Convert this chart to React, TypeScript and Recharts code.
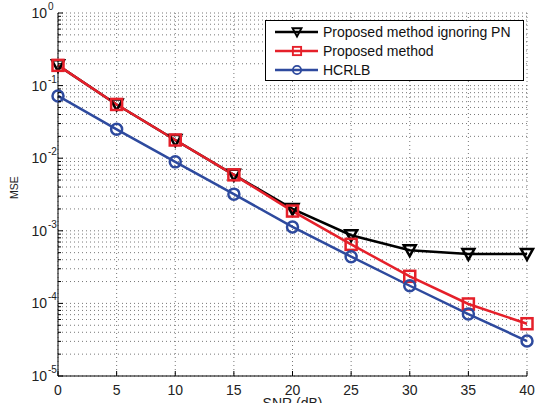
import React from 'react';
import { LineChart, Line, XAxis, YAxis, CartesianGrid, Legend } from 'recharts';

const snr = [0, 5, 10, 15, 20, 25, 30, 35, 40];
const ignoringPN = [0.19, 0.055, 0.0178, 0.0059, 0.002, 0.00087, 0.00054, 0.00048, 0.00048];
const proposed = [0.19, 0.055, 0.0178, 0.0059, 0.00187, 0.00065, 0.000236, 0.0000982, 0.0000525];
const hcrlb = [0.072, 0.025, 0.0089, 0.0032, 0.00113, 0.00044, 0.000175, 0.0000714, 0.0000303];

const xTicks = [0, 5, 10, 15, 20, 25, 30, 35, 40];
const decades = [1e-5, 1e-4, 1e-3, 1e-2, 1e-1, 1];
const mantissas = [1, 2, 3, 4, 5, 6, 7, 8, 9];
const yTicks = decades.flatMap((d) => (d === 1 ? [1] : mantissas.map((m) => m * d)));
const legendOrder = ['ignoring', 'proposed', 'hcrlb'];

const data = snr.map((s, i) => ({
  snr: s,
  ignoring: ignoringPN[i],
  proposed: proposed[i],
  hcrlb: hcrlb[i],
}));

const FONT = '"Liberation Sans", Arial, Helvetica, sans-serif';
const BLACK = '#000000';
const RED = '#e5202a';
const BLUE = '#2e4a9e';

const isDecade = (v: number) => Math.abs(Math.log10(v) - Math.round(Math.log10(v))) < 1e-6;

const Triangle = ({ cx, cy, color }: any) => (
  <polygon
    points={`${cx - 6},${cy - 5} ${cx + 6},${cy - 5} ${cx},${cy + 6}`}
    fill="none"
    stroke={color}
    strokeWidth={2.5}
    strokeLinejoin="miter"
  />
);
const Square = ({ cx, cy, color }: any) => (
  <rect x={cx - 5.5} y={cy - 5.5} width={11} height={11} fill="none" stroke={color} strokeWidth={2.5} />
);
const Circle = ({ cx, cy, color }: any) => (
  <circle cx={cx} cy={cy} r={5.5} fill="none" stroke={color} strokeWidth={2.5} />
);

const markers: Record<string, any> = { ignoring: Triangle, proposed: Square, hcrlb: Circle };

const LeftTick = (props: any) => {
  const { x, y, payload } = props;
  const v = payload.value;
  const major = isDecade(v);
  const ax = x + 4;
  const exp = Math.round(Math.log10(v));
  return (
    <g>
      <line x1={ax} x2={ax + (major ? 5 : 3)} y1={y} y2={y} stroke="#000" />
      {major && (
        <g fontFamily={FONT} fill="#222">
          <text x={ax - 11} y={y + 5} textAnchor="end" fontSize={14}>10</text>
          <text x={ax - 10} y={y - 3} textAnchor="start" fontSize={10}>{exp}</text>
        </g>
      )}
    </g>
  );
};

const RightTick = (props: any) => {
  const { x, y, payload } = props;
  const major = isDecade(payload.value);
  return <line x1={x - (major ? 5 : 3)} x2={x} y1={y} y2={y} stroke="#000" />;
};

const BottomTick = (props: any) => {
  const { x, y, payload } = props;
  const ay = y - 4;
  return (
    <g>
      <line x1={x} x2={x} y1={ay} y2={ay - 5} stroke="#000" />
      <text x={x} y={ay + 19} textAnchor="middle" fontSize={14} fontFamily={FONT} fill="#222">
        {payload.value}
      </text>
    </g>
  );
};

const TopTick = (props: any) => {
  const { x, y } = props;
  return <line x1={x} x2={x} y1={y} y2={y + 5} stroke="#000" />;
};

const LegendBox = (props: any) => {
  const payload = [...((props.payload || []) as any[])].sort(
    (a, b) => legendOrder.indexOf(a.dataKey) - legendOrder.indexOf(b.dataKey)
  );
  return (
    <svg width={259} height={61} style={{ display: 'block' }}>
      <rect x={0.5} y={0.5} width={258} height={60} fill="#fff" stroke="#000" strokeWidth={1} />
      {payload.map((p, i) => {
        const cy = 12 + i * 19;
        const M = markers[p.dataKey];
        return (
          <g key={p.dataKey}>
            <line x1={10} x2={53} y1={cy} y2={cy} stroke={p.color} strokeWidth={2.5} />
            <g transform={`translate(32, ${cy}) scale(0.75) translate(-32, ${-cy})`}>
              <M cx={32} cy={cy} color={p.color} />
            </g>
            <text x={58} y={cy + 5} fontSize={14} fontFamily={FONT} fill="#111">
              {p.value}
            </text>
          </g>
        );
      })}
    </svg>
  );
};

const dotFor = (key: string, color: string) => (props: any) => {
  const M = markers[key];
  return <M key={`${key}-${props.index}`} cx={props.cx} cy={props.cy} color={color} />;
};

export default function App() {
  return (
    <div style={{ position: 'absolute', left: 0, top: 0, width: 535, height: 403, background: '#fff', overflow: 'hidden' }}>
      <LineChart width={535} height={403} data={data} margin={{ top: 13, right: 8, bottom: 0, left: 0 }}>
        <CartesianGrid stroke="#555" strokeDasharray="1 3" strokeWidth={0.8} />
        <XAxis
          dataKey="snr"
          type="number"
          domain={[0, 40]}
          ticks={xTicks}
          height={27}
          tickSize={0}
          tickMargin={4}
          tickLine={false}
          axisLine={{ stroke: '#000', strokeWidth: 1 }}
          tick={<BottomTick />}
          interval={0}
          label={{
            content: (p: any) => {
              const vb = p.viewBox;
              return (
                <text x={vb.x + vb.width / 2} y={vb.y + 32} textAnchor="middle" fontSize={14} fontFamily={FONT} fill="#222">
                  SNR (dB)
                </text>
              );
            },
          }}
        />
        <XAxis
          xAxisId="top"
          dataKey="snr"
          type="number"
          orientation="top"
          domain={[0, 40]}
          ticks={xTicks}
          height={0}
          tickSize={0}
          tickMargin={0}
          tickLine={false}
          axisLine={{ stroke: '#000', strokeWidth: 1 }}
          tick={<TopTick />}
          interval={0}
        />
        <YAxis
          scale="log"
          type="number"
          domain={[1e-5, 1]}
          ticks={yTicks}
          allowDataOverflow
          width={58}
          tickSize={0}
          tickMargin={4}
          tickLine={false}
          axisLine={{ stroke: '#000', strokeWidth: 1 }}
          tick={<LeftTick />}
          interval={0}
          label={{
            content: (p: any) => {
              const vb = p.viewBox;
              const cx = vb.x + 18;
              const cy = vb.y + vb.height / 2 - 7;
              return (
                <text x={cx} y={cy} transform={`rotate(-90 ${cx} ${cy})`} textAnchor="middle" fontSize={10.5} fontFamily={FONT} fill="#222">
                  MSE
                </text>
              );
            },
          }}
        />
        <YAxis
          yAxisId="right"
          orientation="right"
          scale="log"
          type="number"
          domain={[1e-5, 1]}
          ticks={yTicks}
          allowDataOverflow
          width={0}
          tickSize={0}
          tickMargin={0}
          tickLine={false}
          axisLine={{ stroke: '#000', strokeWidth: 1 }}
          tick={<RightTick />}
          interval={0}
        />
        <Legend
          layout="vertical"
          align="center"
          verticalAlign="middle"
          wrapperStyle={{ position: 'absolute', left: 265, top: 20, width: 259, height: 61 }}
          content={<LegendBox />}
        />
        <Line
          dataKey="ignoring"
          name="Proposed method ignoring PN"
          stroke={BLACK}
          strokeWidth={2.5}
          type="linear"
          dot={dotFor('ignoring', BLACK)}
          activeDot={false}
          isAnimationActive={false}
        />
        <Line
          dataKey="proposed"
          name="Proposed method"
          stroke={RED}
          strokeWidth={2.5}
          type="linear"
          dot={dotFor('proposed', RED)}
          activeDot={false}
          isAnimationActive={false}
        />
        <Line
          dataKey="hcrlb"
          name="HCRLB"
          stroke={BLUE}
          strokeWidth={2.5}
          type="linear"
          dot={dotFor('hcrlb', BLUE)}
          activeDot={false}
          isAnimationActive={false}
        />
      </LineChart>
    </div>
  );
}
